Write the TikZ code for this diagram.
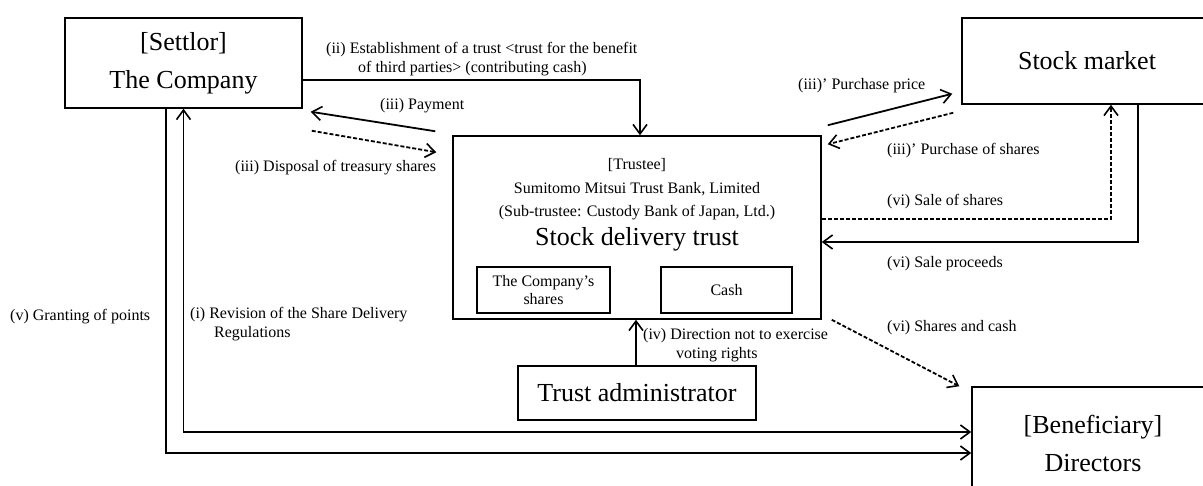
\documentclass[tikz,border=0pt]{standalone}
\usepackage{fontspec}
\setmainfont{Liberation Serif}
\usetikzlibrary{arrows.meta}
\begin{document}
\begin{tikzpicture}[x=1pt,y=-1pt,
  box/.style={draw,line width=1.5pt,inner sep=0pt,rectangle},
  big/.style={font=\fontsize{26}{38}\selectfont},
  small/.style={font=\fontsize{16}{18.5}\selectfont},
  lbl/.style={small,inner sep=0pt,anchor=west,align=left},
  barb/.tip={Straight Barb[length=9.5pt,width=14pt,line width=1.6pt]},
  arr/.style={line width=1.8pt,-barb},
  dsh/.style={arr,dash pattern=on 4pt off 2pt}]
\useasboundingbox (0,0) rectangle (1203,485);
\clip (0,0) rectangle (1203,485);
% nodes
\node[box,big,minimum width=237pt,minimum height=90pt,align=center] (settlor) at (183.5,63) {[Settlor]\\The Company};
\node[box,minimum width=368pt,minimum height=183pt] (trust) at (637,227.5) {};
\node[small,inner sep=0pt] (t1) at (637,165) {[Trustee]};
\node[small,inner sep=0pt] (t2) at (637,189) {Sumitomo Mitsui Trust Bank, Limited};
\node[small,inner sep=0pt] (t3) at (637,213) {(Sub-trustee: Custody Bank of Japan, Ltd.)};
\node[big,inner sep=0pt] (t4) at (637,239) {Stock delivery trust};
\node[box,small,minimum width=133pt,minimum height=46pt,align=center] (cs) at (543.5,290) {The Company’s\\shares};
\node[box,small,minimum width=131pt,minimum height=46pt] (cash) at (726.5,290) {Cash};
\node[box,big,minimum width=250pt,minimum height=86pt] (stock) at (1087,61) {Stock market};
\node[box,big,minimum width=238pt,minimum height=54pt] (admin) at (637,393) {Trust administrator};
\node[box,big,minimum width=242pt,minimum height=113pt,align=center] (benef) at (1093,443.5) {[Beneficiary]\\Directors};
% connectors
\draw[arr] ([yshift=-17pt]settlor.east) -| ([xshift=3pt]trust.north);
\draw[arr] ([xshift=-17pt,yshift=4pt]trust.north west) -- ([xshift=8pt,yshift=-3pt]settlor.south east);
\draw[dsh] ([xshift=9pt,yshift=-22pt]settlor.south east) -- ([xshift=-16pt,yshift=-17pt]trust.north west);
\draw[arr] ([xshift=6pt,yshift=10pt]trust.north east) -- ([xshift=-9pt,yshift=11pt]stock.south west);
\draw[dsh] ([xshift=-8pt,yshift=-8pt]stock.south west) -- ([xshift=6pt,yshift=-9pt]trust.north east);
\draw[dsh] ([yshift=8.5pt]trust.east) -| ([xshift=24pt]stock.south);
\draw[arr] ([xshift=51pt]stock.south) |- ([yshift=-14.5pt]trust.east);
\draw[dsh] ([xshift=10pt]trust.south east) -- ([xshift=-12pt]benef.north west);
\draw[arr] ([xshift=-1pt]admin.north) -- ([xshift=-1pt]trust.south);
\draw[line width=1.8pt,barb-barb] (settlor.south) |- ([yshift=11.5pt]benef.west);
\draw[arr] ([xshift=-17.5pt]settlor.south) |- ([yshift=-9.5pt]benef.west);
% labels
\node[lbl] (lv) at (10,317) {(v) Granting of points};
\node[lbl] (li) at (190,324) {(i) Revision of the Share Delivery\\\hspace*{24pt}Regulations};
\node[lbl] (lii) at (326,59) {(ii) Establishment of a trust <trust for the benefit\\\hspace*{32pt}of third parties> (contributing cash)};
\node[lbl] (lpay) at (380,106) {(iii) Payment};
\node[lbl] (ldisp) at (235,168) {(iii) Disposal of treasury shares};
\node[lbl] (lpp) at (798,86) {(iii)’ Purchase price};
\node[lbl] (lps) at (887,151) {(iii)’ Purchase of shares};
\node[lbl] (lsos) at (887,202) {(vi) Sale of shares};
\node[lbl] (lsp) at (887,264) {(vi) Sale proceeds};
\node[lbl] (lsc) at (887,328) {(vi) Shares and cash};
\node[lbl] (liv) at (643,345) {(iv) Direction not to exercise\\\hspace*{33pt}voting rights};
\end{tikzpicture}
\end{document}
